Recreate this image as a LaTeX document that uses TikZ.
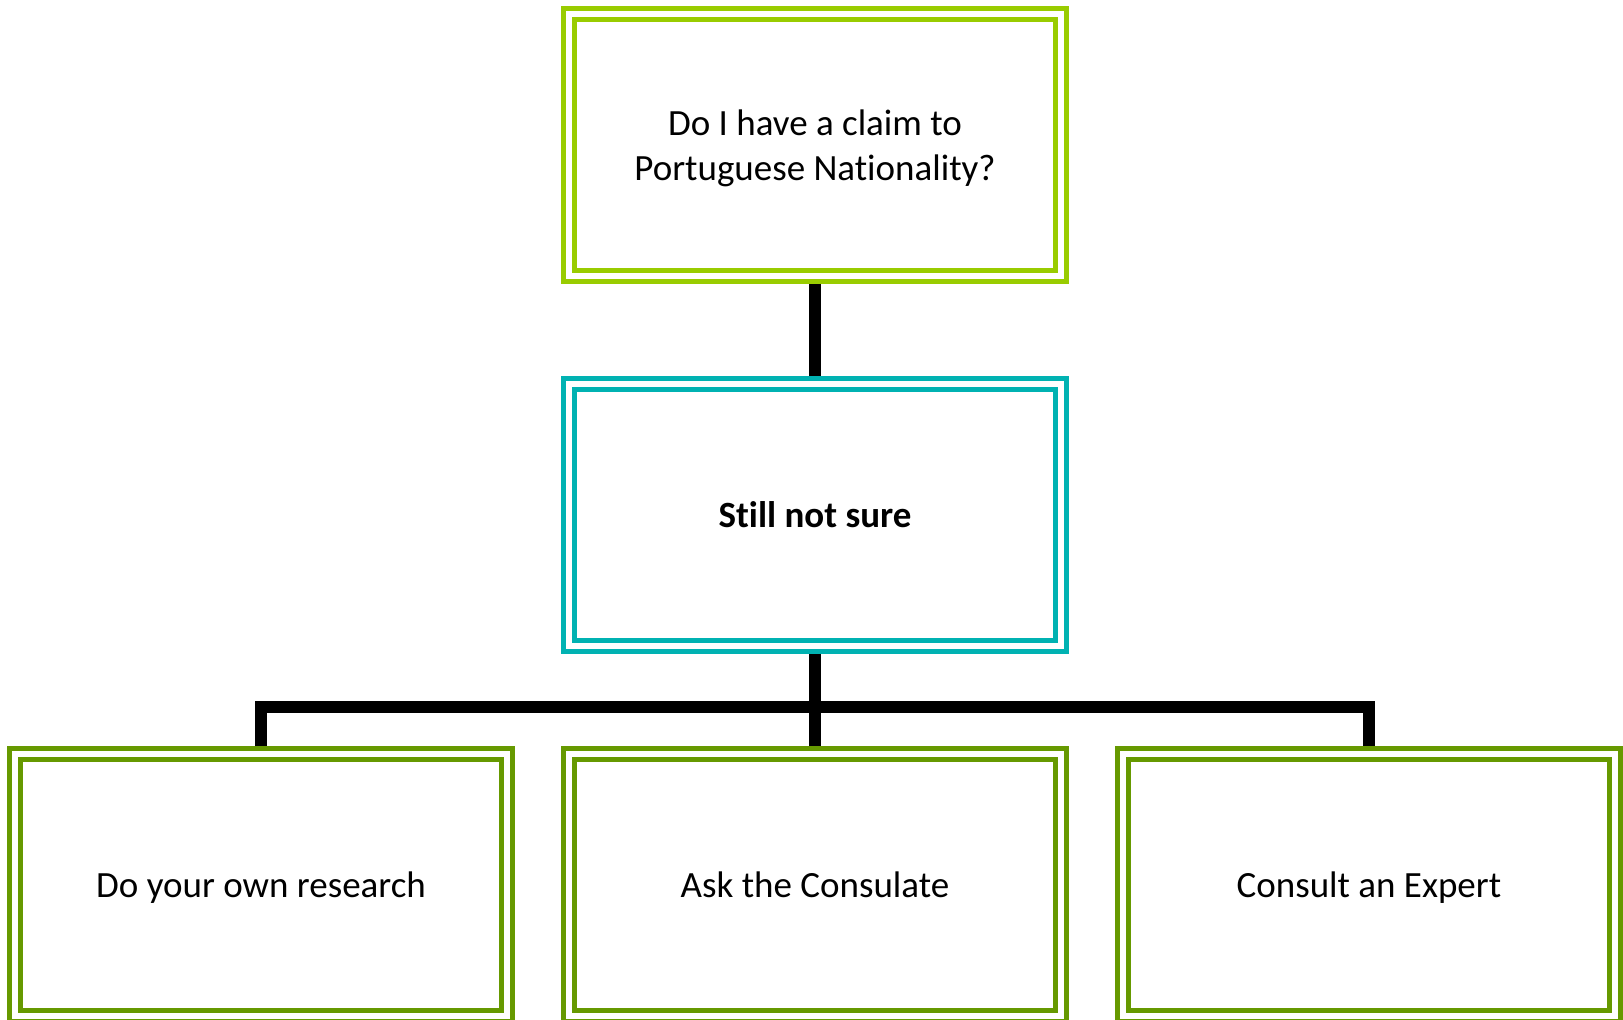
\documentclass[tikz,border=0pt]{standalone}
\usepackage{fontspec}
\setmainfont{Carlito}[Ligatures={NoCommon,NoRare,NoContextual}]
\definecolor{limegreen}{RGB}{153,204,0}
\definecolor{tealbox}{RGB}{0,178,178}
\definecolor{olivebox}{RGB}{102,153,0}
\begin{document}
\begin{tikzpicture}[x=1pt,y=-1pt,
  box/.style={draw=#1, double=white, line width=5pt, double distance=6pt,
    minimum width=492pt, minimum height=262pt, inner sep=0pt, outer sep=8pt,
    font=\fontsize{37}{45}\selectfont},
  oneline/.style={text height=35pt, text depth=10pt},
  conn/.style={draw=black, line width=12pt, line join=miter}]
\clip (0,0) rectangle (1623,1020);
\useasboundingbox (0,0) rectangle (1623,1020);
\node[box=limegreen] (top) at (815,145) {\raisebox{-4pt}[\height][\depth]{\begin{tabular}{@{}c@{}}Do I have a claim to\\Portuguese Nat\kern0pt ionality?\end{tabular}}};
\node[box=tealbox, oneline] (mid) at (815,515) {\bfseries Stil\kern0pt l not sure};
\node[box=olivebox, oneline] (b1) at (261,885) {Do your own research};
\node[box=olivebox, oneline] (b2) at (815,885) {Ask the Consulate};
\node[box=olivebox, oneline] (b3) at (1369,885) {Consult an Expert};
\draw[conn] (top.south) -- (mid.north);
\draw[conn] (mid.south) -- (b2.north);
\draw[conn] (b1.north) -- ++(0,-39) -| (b3.north);
\end{tikzpicture}
\end{document}
